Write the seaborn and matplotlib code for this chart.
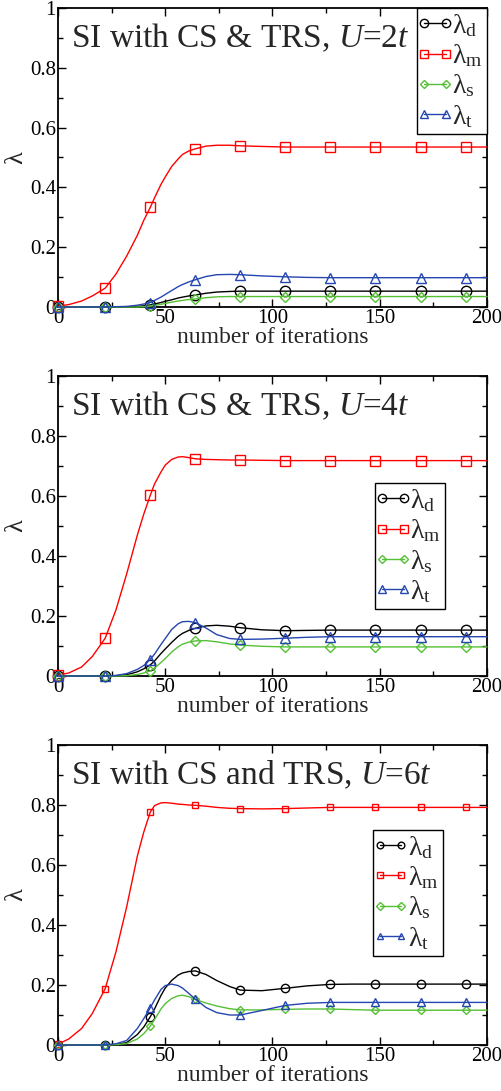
import matplotlib
matplotlib.use("Agg")
import matplotlib.pyplot as plt
import seaborn as sns
import numpy as np
import pandas as pd
from matplotlib.lines import Line2D
from matplotlib.legend_handler import HandlerLine2D
from matplotlib.ticker import MultipleLocator, FuncFormatter

# ---------------- data ----------------
ITER = [0, 5, 11, 16, 22, 27, 32, 37, 40, 43, 45, 48, 50, 53, 56, 58, 61, 64, 69, 74, 80, 85,
        95, 106, 116, 127, 137, 148, 158, 169, 179, 190, 200]
MARK_ITER = [0, 22, 43, 64, 85, 106, 127, 148, 169, 190]

TITLES = ["SI with CS & TRS, ", "SI with CS & TRS, ", "SI with CS and TRS, "]
U_LABELS = ["2t", "4t", "6t"]
SERIES = ["d", "m", "s", "t"]

# U = 2t
U2_d = [0, 0, 0, 0, 0, 0, 0, 0.002, 0.004, 0.007, 0.010, 0.015, 0.019, 0.024, 0.030, 0.033, 0.037, 0.040,
        0.046, 0.050, 0.052, 0.053,
        0.053, 0.053, 0.053, 0.053, 0.053, 0.053, 0.053, 0.053, 0.053, 0.053, 0.053]
U2_m = [0.003, 0.008, 0.020, 0.037, 0.063, 0.110, 0.170, 0.240, 0.290, 0.333, 0.365, 0.410, 0.435, 0.470, 0.495, 0.510, 0.522, 0.529,
        0.538, 0.541, 0.541, 0.539,
        0.537, 0.535, 0.535, 0.535, 0.535, 0.535, 0.535, 0.535, 0.535, 0.535, 0.535]
U2_s = [0, 0, 0, 0, 0, 0, 0, 0, 0.001, 0.003, 0.005, 0.009, 0.012, 0.016, 0.020, 0.022, 0.025, 0.027,
        0.031, 0.034, 0.035, 0.035,
        0.035, 0.035, 0.035, 0.035, 0.035, 0.035, 0.035, 0.035, 0.035, 0.035, 0.035]
U2_t = [0, 0, 0, 0, 0, 0.001, 0.002, 0.006, 0.010, 0.015, 0.022, 0.033, 0.042, 0.055, 0.068, 0.075, 0.084, 0.091,
        0.102, 0.108, 0.109, 0.108,
        0.104, 0.101, 0.099, 0.098, 0.098, 0.098, 0.098, 0.098, 0.098, 0.098, 0.098]

# U = 4t
U4_d = [0, 0, 0, 0, 0, 0.001, 0.004, 0.014, 0.024, 0.037, 0.050, 0.075, 0.090, 0.112, 0.132, 0.142, 0.152, 0.159,
        0.167, 0.169, 0.166, 0.161,
        0.154, 0.151, 0.152, 0.153, 0.153, 0.153, 0.153, 0.153, 0.153, 0.153, 0.153]
U4_m = [0.003, 0.010, 0.030, 0.065, 0.126, 0.220, 0.340, 0.470, 0.540, 0.602, 0.640, 0.680, 0.703, 0.722, 0.730, 0.731, 0.728, 0.724,
        0.722, 0.721, 0.720, 0.720,
        0.719, 0.718, 0.718, 0.718, 0.718, 0.718, 0.718, 0.718, 0.718, 0.718, 0.718]
U4_s = [0, 0, 0, 0, 0, 0, 0.001, 0.005, 0.010, 0.017, 0.026, 0.045, 0.058, 0.080, 0.097, 0.106, 0.113, 0.117,
        0.118, 0.114, 0.107, 0.103,
        0.099, 0.097, 0.097, 0.097, 0.097, 0.097, 0.097, 0.097, 0.097, 0.097, 0.097]
U4_t = [0, 0, 0, 0, 0, 0.002, 0.008, 0.022, 0.035, 0.055, 0.073, 0.105, 0.125, 0.155, 0.174, 0.181, 0.182, 0.178,
        0.160, 0.138, 0.125, 0.122,
        0.123, 0.126, 0.129, 0.131, 0.131, 0.131, 0.131, 0.131, 0.131, 0.131, 0.131]

# U = 6t
U6_d = [0, 0, 0, 0, 0, 0.001, 0.008, 0.035, 0.060, 0.094, 0.120, 0.165, 0.190, 0.215, 0.233, 0.240, 0.245, 0.247,
        0.235, 0.215, 0.195, 0.183,
        0.181, 0.189, 0.197, 0.202, 0.203, 0.203, 0.203, 0.203, 0.203, 0.203, 0.203]
U6_m = [0.003, 0.020, 0.055, 0.105, 0.188, 0.310, 0.460, 0.630, 0.710, 0.776, 0.798, 0.807, 0.808, 0.806, 0.803, 0.802, 0.800, 0.799,
        0.796, 0.792, 0.789, 0.788,
        0.787, 0.788, 0.790, 0.792, 0.792, 0.792, 0.792, 0.792, 0.792, 0.792, 0.792]
U6_s = [0, 0, 0, 0, 0, 0.001, 0.005, 0.020, 0.038, 0.063, 0.085, 0.120, 0.138, 0.155, 0.164, 0.166, 0.161, 0.152,
        0.140, 0.130, 0.121, 0.117,
        0.117, 0.119, 0.120, 0.120, 0.118, 0.116, 0.116, 0.116, 0.116, 0.116, 0.116]
U6_t = [0, 0, 0, 0, 0.001, 0.004, 0.015, 0.055, 0.088, 0.124, 0.150, 0.185, 0.198, 0.203, 0.198, 0.190, 0.172, 0.153,
        0.125, 0.108, 0.100, 0.100,
        0.115, 0.132, 0.139, 0.142, 0.142, 0.142, 0.142, 0.142, 0.142, 0.142, 0.142]

PANELS = [
    {"d": U2_d, "m": U2_m, "s": U2_s, "t": U2_t},
    {"d": U4_d, "m": U4_m, "s": U4_s, "t": U4_t},
    {"d": U6_d, "m": U6_m, "s": U6_s, "t": U6_t},
]

# ---------------- style ----------------
sns.set_style("ticks")
plt.rcParams["font.family"] = ["Liberation Serif", "DejaVu Serif"]
plt.rcParams["mathtext.fontset"] = "custom"
plt.rcParams["mathtext.rm"] = "Liberation Serif"
plt.rcParams["mathtext.it"] = "Liberation Serif:italic"
plt.rcParams["mathtext.bf"] = "Liberation Serif:bold"

COLORS = {"d": "#000000", "m": "#ff0000", "s": "#55c035", "t": "#2545b0"}
MARKERS = {"d": "o", "m": "s", "s": "D", "t": "^"}
MSIZE = [{"d": 7.5, "m": 6.5, "s": 5.5, "t": 7.5},
         {"d": 7.5, "m": 6.5, "s": 5.5, "t": 7.5},
         {"d": 6.0, "m": 5.0, "s": 4.5, "t": 6.0}]

fig = plt.figure(figsize=(5.01, 10.91), dpi=100)
W, H = 501.0, 1091.0
ax_px = [(58, 8, 487, 307), (58, 376, 487, 676), (58, 745, 487, 1045)]
legend_anchor = [(1.0, 1.0), (0.902, 0.643), (0.897, 0.717)]

mark_idx = [ITER.index(v) for v in MARK_ITER]

for p, (x0, y0, x1, y1) in enumerate(ax_px):
    ax = fig.add_axes([x0 / W, 1 - y1 / H, (x1 - x0) / W, (y1 - y0) / H])
    handles = []
    for key in SERIES:
        df = pd.DataFrame({"iter": ITER, "val": PANELS[p][key]})
        sns.lineplot(data=df, x="iter", y="val", ax=ax, color=COLORS[key],
                     lw=1.0, marker=MARKERS[key], markevery=mark_idx,
                     markersize=MSIZE[p][key], markerfacecolor="none",
                     markeredgecolor=COLORS[key], markeredgewidth=1.0,
                     errorbar=None, sort=False, clip_on=False, zorder=3)
        handles.append(Line2D([], [], color=COLORS[key], lw=1.0,
                              marker=MARKERS[key], markersize=MSIZE[p][key] * 0.8,
                              markerfacecolor="none", markeredgecolor=COLORS[key],
                              markeredgewidth=1.0,
                              label=r"$\mathrm{\lambda}_{\mathrm{%s}}$" % key))
    ax.set_xlim(0, 200)
    ax.set_ylim(0, 1)
    ax.xaxis.set_major_locator(MultipleLocator(50))
    ax.xaxis.set_minor_locator(MultipleLocator(25))
    ax.yaxis.set_major_locator(MultipleLocator(0.2))
    ax.yaxis.set_minor_locator(MultipleLocator(0.1))
    ax.yaxis.set_major_formatter(FuncFormatter(lambda v, pos: "%g" % round(v, 2)))
    ax.xaxis.set_major_formatter(FuncFormatter(lambda v, pos: "%g" % v))
    ax.tick_params(which="both", direction="in", top=True, right=True,
                   labelsize=15, colors="black", pad=1.5)
    ax.tick_params(which="major", length=6, width=1.0)
    ax.tick_params(which="minor", length=3.3, width=1.0)
    for sp in ax.spines.values():
        sp.set_linewidth(1.3)
        sp.set_color("black")
    ax.set_xlabel("number of iterations", fontsize=17, labelpad=-1)
    ax.set_ylabel("λ", fontsize=19)
    ax.yaxis.set_label_coords(-0.098, 0.5)
    ax.yaxis.label.set_verticalalignment("center")
    ax.text(0.03, 0.9, TITLES[p] + r"$\mathit{U}$=$\mathit{%s}$" % U_LABELS[p],
            transform=ax.transAxes, fontsize=24, va="center", ha="left")
    leg = ax.legend(handles=handles, loc="upper right",
                    bbox_to_anchor=legend_anchor[p], bbox_transform=ax.transAxes,
                    fontsize=20, numpoints=2, handlelength=1.0, handletextpad=0.12,
                    labelspacing=0.12, borderpad=0.15, borderaxespad=0,
                    fancybox=False, frameon=True, framealpha=1, edgecolor="black",
                    handler_map={Line2D: HandlerLine2D(marker_pad=0.12)})
    leg.get_frame().set_linewidth(1.0)

fig.savefig("out.png", dpi=100)
